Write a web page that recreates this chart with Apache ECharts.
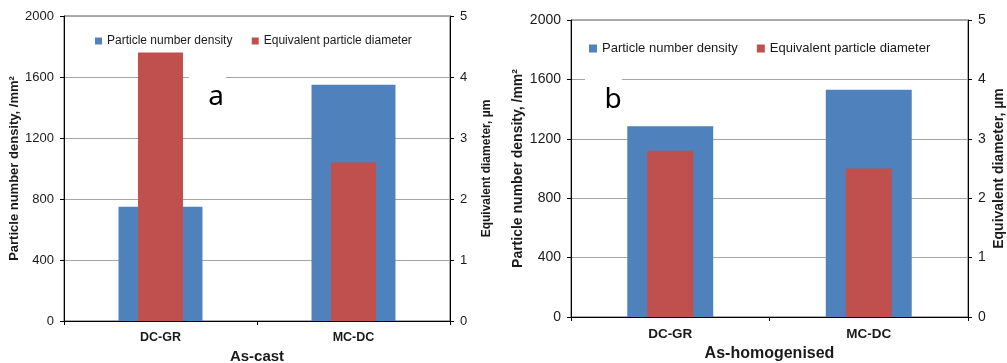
<!DOCTYPE html>
<html>
<head>
<meta charset="utf-8">
<script src="https://cdn.jsdelivr.net/npm/echarts@6/dist/echarts.min.js"></script>
<style>
html,body{margin:0;padding:0;background:#fff;}
#c{width:1007px;height:363px;}
</style>
</head>
<body>
<div id="c"></div>
<script>
const categories = ['DC-GR', 'MC-DC'];
const densityAsCast = [750, 1550];
const diameterAsCast = [4.4, 2.6];
const densityHomog = [1285, 1530];
const diameterHomog = [2.8, 2.5];
const seriesNames = ['Particle number density', 'Equivalent particle diameter'];
const panelTitles = ['As-cast', 'As-homogenised'];
const panelLetters = ['a', 'b'];
const densityScale = { min: 0, max: 2000, interval: 400 };
const diameterScale = { min: 0, max: 5, interval: 1 };

const BLUE = '#4f81bd', RED = '#c0504d';
const FONT = 'Liberation Sans, Arial, sans-serif';

function xAxes(gridIndex, visible, labelSize, titleSize, nameGap, title) {
  return {
    type: 'category', gridIndex, data: categories, show: visible,
    boundaryGap: true,
    name: title, nameLocation: 'middle', nameGap,
    nameTextStyle: { fontFamily: FONT, fontWeight: 'bold', fontSize: titleSize, color: '#1a1a1a' },
    axisLine: { lineStyle: { color: '#000', width: 1 } },
    axisTick: { show: true, length: 4, alignWithLabel: false, lineStyle: { color: '#000' } },
    axisLabel: { fontFamily: FONT, fontWeight: 'bold', fontSize: labelSize, color: '#1a1a1a', margin: 10 },
    splitLine: { show: false }
  };
}
function yAxis(gridIndex, pos, scale, name, labelSize, nameSize, nameGap, grid) {
  return {
    type: 'value', gridIndex, position: pos,
    min: scale.min, max: scale.max, interval: scale.interval,
    name, nameLocation: 'middle', nameGap, nameRotate: 90,
    nameTextStyle: { fontFamily: FONT, fontWeight: 'bold', fontSize: nameSize, color: '#1a1a1a' },
    axisLine: { show: true, lineStyle: { color: '#000', width: 1 } },
    axisTick: { show: true, length: 4, inside: false, lineStyle: { color: '#000' } },
    axisLabel: { fontFamily: FONT, fontSize: labelSize, color: '#1a1a1a', margin: 10, formatter: v => String(v) },
    splitLine: { show: grid, lineStyle: { color: '#a6a6a6', width: 1 } }
  };
}
function bar(name, data, xi, yi, color, width) {
  return {
    name, type: 'bar', data, xAxisIndex: xi, yAxisIndex: yi,
    barWidth: width, itemStyle: { color }, emphasis: { disabled: true }, animation: false
  };
}

const option = {
  animation: false,
  grid: [
    { left: 64, top: 16, width: 386, height: 305, show: true, borderColor: '#595959', borderWidth: 1, containLabel: false, outerBoundsMode: 'none' },
    { left: 571, top: 20, width: 397, height: 297, show: true, borderColor: '#595959', borderWidth: 1, containLabel: false, outerBoundsMode: 'none' }
  ],
  legend: [
    { left: 90, top: 30, itemWidth: 7, itemHeight: 7, itemGap: 16, icon: 'rect',
      textStyle: { fontFamily: FONT, fontSize: 12, color: '#1a1a1a' },
      data: [{ name: seriesNames[0] + ' ', itemStyle: { color: BLUE } }, { name: seriesNames[1] + ' ', itemStyle: { color: RED } }] },
    { left: 584, top: 37, itemWidth: 8, itemHeight: 8, itemGap: 19, icon: 'rect',
      textStyle: { fontFamily: FONT, fontSize: 13, color: '#1a1a1a' },
      data: [{ name: seriesNames[0], itemStyle: { color: BLUE } }, { name: seriesNames[1], itemStyle: { color: RED } }] }
  ],
  xAxis: [
    xAxes(0, true, 12.5, 15, 20, panelTitles[0]),
    xAxes(0, false, 12.5, 15, 20, ''),
    xAxes(1, true, 13.5, 16, 26, panelTitles[1]),
    xAxes(1, false, 13.5, 16, 26, '')
  ],
  yAxis: [
    yAxis(0, 'left', densityScale, 'Particle number density, /mm²', 13, 13, 42, true),
    yAxis(0, 'right', diameterScale, 'Equivalent diameter, µm', 13, 12, 31, false),
    yAxis(1, 'left', densityScale, 'Particle number density, /mm²', 14, 14, 46, true),
    yAxis(1, 'right', diameterScale, 'Equivalent diameter, µm', 14, 14, 24, false)
  ],
  series: [
    bar(seriesNames[0] + ' ', densityAsCast, 0, 0, BLUE, '43.5%'),
    bar(seriesNames[1] + ' ', diameterAsCast, 1, 1, RED, '23.3%'),
    bar(seriesNames[0], densityHomog, 2, 2, BLUE, '43.3%'),
    bar(seriesNames[1], diameterHomog, 3, 3, RED, '23.2%')
  ],
  graphic: [
    { type: 'rect', shape: { x: 189, y: 66, width: 37, height: 46 }, style: { fill: '#fff' }, z: 50 },
    { type: 'text', x: 216, y: 97, z: 51,
      style: { text: panelLetters[0], font: '28px "Noto Sans", sans-serif', fill: '#000', align: 'center', verticalAlign: 'middle' } },
    { type: 'rect', shape: { x: 585, y: 66, width: 37, height: 50 }, style: { fill: '#fff' }, z: 50 },
    { type: 'text', x: 613, y: 100, z: 51,
      style: { text: panelLetters[1], font: '28px "Noto Sans", sans-serif', fill: '#000', align: 'center', verticalAlign: 'middle' } }
  ]
};
const chart = echarts.init(document.getElementById('c'), null, { renderer: 'canvas' });
chart.setOption(option);
</script>
</body>
</html>
